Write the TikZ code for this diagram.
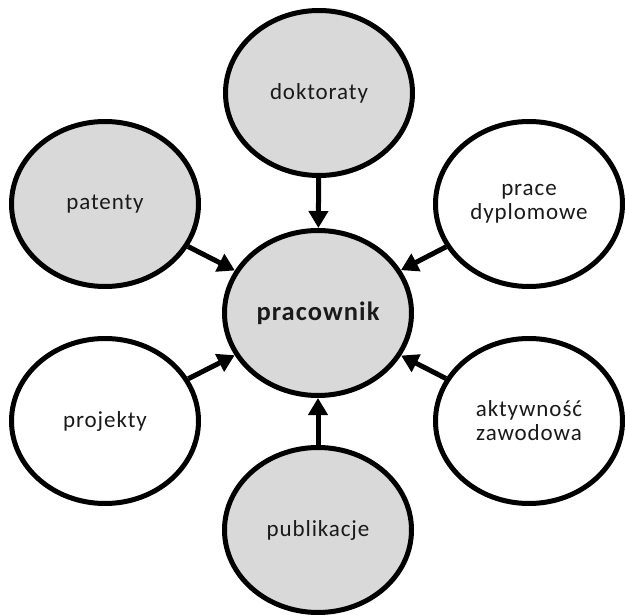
\documentclass[tikz,border=0pt]{standalone}
\usepackage{fontspec}
\setmainfont{Carlito}[LetterSpace=4]
\usetikzlibrary{shapes.geometric,arrows.meta}
\definecolor{bubblegray}{HTML}{D9D9D9}
\definecolor{txt}{HTML}{1A1A1A}
\begin{document}
\begin{tikzpicture}[x=1pt,y=-1pt,
  bubble/.style={ellipse,draw=black,line width=5pt,minimum width=187pt,minimum height=165pt,
    inner sep=0pt,align=center,text=txt,font=\fontsize{23}{24}\selectfont},
  graybubble/.style={bubble,fill=bubblegray},
  whitebubble/.style={bubble,fill=white},
  link/.style={line width=5pt,-{Triangle[length=17pt,width=19pt]}}]
\useasboundingbox (0,0) rectangle (625,615);
\node[graybubble,font=\fontsize{26.5}{28}\selectfont\bfseries] (prac) at (318,313) {pracownik};
\node[graybubble] (dokt) at (319,93) {doktoraty};
\node[graybubble] (pub) at (318,530) {publikacje};
\node[graybubble] (pat) at (105,204) {patenty};
\node[whitebubble] (dypl) at (529,204) {prace\\dyplomowe};
\node[whitebubble] (proj) at (105,421) {projekty};
\node[whitebubble] (akt) at (529,421) {aktywność\\zawodowa};
\draw[link] (dokt) -- (prac);
\draw[link] (pub) -- (prac);
\draw[link] (pat) -- (prac);
\draw[link] (dypl) -- (prac);
\draw[link] (proj) -- (prac);
\draw[link] (akt) -- (prac);
\end{tikzpicture}
\end{document}
